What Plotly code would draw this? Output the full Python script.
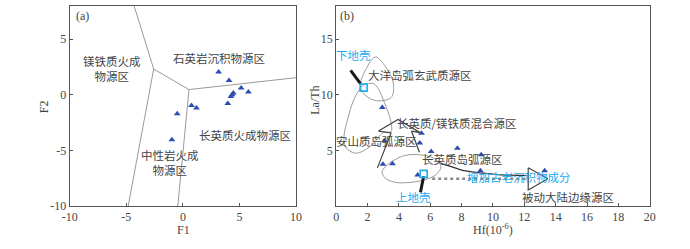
import plotly.graph_objects as go

# ---------------- Panel (a) data ----------------
a_f1 = [3.16, 4.08, 5.15, 5.79, 4.46, 4.35, 4.25, 3.97, 0.76, 1.20, -0.50, -0.97]
a_f2 = [2.06, 1.28, 0.61, 0.26, 0.17, 0.00, -0.15, -0.78, -0.96, -1.19, -1.71, -4.05]

# field boundaries (F1, F2)
a_bound_x = [-4.31, -2.58, 0.54, 10.0, None, -2.58, -4.83, None, 0.54, -0.45]
a_bound_y = [8.0, 2.32, 0.47, 1.54, None, 2.32, -10.0, None, 0.47, -10.0]

a_labels = ["镁铁质火成<br>物源区", "石英岩沉积物源区", "长英质火成物源区", "中性岩火成<br>物源区"]
a_label_x = [-6.25, 3.16, 5.47, -1.1]
a_label_y = [2.35, 3.28, -3.62, -6.05]

a_xticks = [-10, -5, 0, 5, 10]
a_xtick_text = ["-10", "-5", "0", "5", "10"]
a_yticks = [-10, -5, 0, 5]
a_ytick_text = ["-10", "-5", "0", "5"]

# ---------------- Panel (b) data ----------------
b_hf = [2.94, 5.44, 5.33, 3.08, 6.06, 7.73, 9.25, 2.98, 3.59, 9.20, 5.20, 13.3]
b_lath = [8.85, 6.55, 5.67, 5.87, 4.91, 5.20, 4.62, 3.76, 3.81, 3.17, 2.80, 3.17]

crust_hf = [1.75, 5.58]      # lower crust, upper crust
crust_lath = [10.65, 2.89]

# field outlines (Hf, La/Th)
ocean_hf = [2.5, 3.25, 3.65, 3.5, 2.45, 1.7, 1.55, 1.9, 2.5]
ocean_lath = [13.4, 12.3, 11.0, 9.75, 9.5, 10.2, 11.0, 12.3, 13.4]

andes_hf = [1.75, 2.375, 2.7, 3.1, 3.45, 3.5, 3.0, 2.2, 1.25, 0.6, 0.5, 0.75, 1.06, 1.45, 1.75]
andes_lath = [10.9, 11.0, 10.5, 9.2, 7.8, 6.7, 6.6, 5.4, 4.75, 5.3, 6.3, 7.9, 9.35, 10.4, 10.9]

felsic_hf = [2.93, 3.5, 4.4, 5.4, 6.3, 6.68, 6.4, 5.6, 4.5, 3.7, 3.1, 2.93]
felsic_lath = [3.1, 3.95, 4.55, 4.6, 4.25, 3.55, 2.85, 2.35, 2.1, 2.15, 2.55, 3.1]

# hollow up arrow (mixed source)
mix_hf = [2.63, 3.5, 2.7, 3.94, 5.35, 4.8, 5.31]
mix_lath = [3.43, 6.57, 6.74, 7.78, 6.6, 6.74, 4.83]

# curved arrow to passive margin
curve_hf = [6.67, 7.19, 7.94, 9.06, 10.3, 12.25]
curve_lath = [3.84, 3.61, 3.26, 3.0, 2.83, 2.74]
tri_hf = [12.25, 12.25, 13.5, 12.25]
tri_lath = [3.45, 1.45, 2.45, 3.45]
old_hf = [6.125, 12.25]
old_lath = [2.45, 2.45]

# crust tick marks
lc_hf = [0.92, 1.56]
lc_lath = [12.2, 10.98]
uc_hf = [5.58, 5.375]
uc_lath = [2.68, 1.23]

b_labels = ["大洋岛弧玄武质源区", "长英质/镁铁质混合源区", "安山质岛弧源区", "长英质岛弧源区", "被动大陆边缘源区"]
b_label_x = [5.35, 7.7, 2.6, 8.06, 14.76]
b_label_y = [11.75, 7.46, 5.87, 4.19, 0.8]

b_cyan_labels = ["下地壳", "上地壳", "增加古老沉积物成分"]
b_cyan_x = [1.13, 4.96, 11.67]
b_cyan_y = [13.6, 0.8, 2.59]

b_xticks = list(range(0, 21, 2))
b_yticks = [5, 10, 15]

# ---------------- styles ----------------
CJK = "Noto Sans CJK SC"
SERIF = "Liberation Serif"
TXT = "#444444"
CYAN = "#22aaee"
BLUE = "#2c4cb0"
GRAY = "#9a9a9a"

fig = go.Figure()

# panel a
fig.add_trace(go.Scatter(x=a_bound_x, y=a_bound_y, mode="lines",
                         line=dict(color=GRAY, width=1), xaxis="x", yaxis="y",
                         hoverinfo="skip", showlegend=False))
fig.add_trace(go.Scatter(x=a_f1, y=a_f2, mode="markers",
                         marker=dict(symbol="triangle-up", size=6, color=BLUE),
                         xaxis="x", yaxis="y", showlegend=False))

# panel b fields
for hx, hy in [(ocean_hf, ocean_lath), (andes_hf, andes_lath), (felsic_hf, felsic_lath)]:
    fig.add_trace(go.Scatter(x=hx, y=hy, mode="lines",
                             line=dict(color=GRAY, width=1, shape="spline", smoothing=1.0),
                             xaxis="x2", yaxis="y2", hoverinfo="skip", showlegend=False))
fig.add_trace(go.Scatter(x=mix_hf, y=mix_lath, mode="lines",
                         line=dict(color="#444444", width=1.2),
                         xaxis="x2", yaxis="y2", hoverinfo="skip", showlegend=False))
fig.add_trace(go.Scatter(x=old_hf, y=old_lath, mode="lines",
                         line=dict(color="#8a8a8a", width=2.5, dash="dot"),
                         xaxis="x2", yaxis="y2", hoverinfo="skip", showlegend=False))
fig.add_trace(go.Scatter(x=curve_hf, y=curve_lath, mode="lines",
                         line=dict(color="#333333", width=1.3, shape="spline"),
                         xaxis="x2", yaxis="y2", hoverinfo="skip", showlegend=False))
fig.add_trace(go.Scatter(x=tri_hf, y=tri_lath, mode="lines",
                         line=dict(color="#444444", width=1.2),
                         xaxis="x2", yaxis="y2", hoverinfo="skip", showlegend=False))
for hx, hy in [(lc_hf, lc_lath), (uc_hf, uc_lath)]:
    fig.add_trace(go.Scatter(x=hx, y=hy, mode="lines",
                             line=dict(color="#1a1a1a", width=3),
                             xaxis="x2", yaxis="y2", hoverinfo="skip", showlegend=False))
fig.add_trace(go.Scatter(x=b_hf, y=b_lath, mode="markers",
                         marker=dict(symbol="triangle-up", size=6, color=BLUE),
                         xaxis="x2", yaxis="y2", showlegend=False))
fig.add_trace(go.Scatter(x=crust_hf, y=crust_lath, mode="markers",
                         marker=dict(symbol="square-open", size=7, color=CYAN,
                                     line=dict(width=1.6, color=CYAN)),
                         xaxis="x2", yaxis="y2", showlegend=False))

ann = []
for t, x, y in zip(a_labels, a_label_x, a_label_y):
    ann.append(dict(text=t, x=x, y=y, xref="x", yref="y", showarrow=False,
                    font=dict(family=CJK, size=11.5, color=TXT)))
for t, x, y in zip(b_labels, b_label_x, b_label_y):
    ann.append(dict(text=t, x=x, y=y, xref="x2", yref="y2", showarrow=False,
                    font=dict(family=CJK, size=11.5, color=TXT)))
for t, x, y in zip(b_cyan_labels, b_cyan_x, b_cyan_y):
    ann.append(dict(text=t, x=x, y=y, xref="x2", yref="y2", showarrow=False,
                    font=dict(family=CJK, size=11.5, color=CYAN)))
ann.append(dict(text="(a)", x=-8.9, y=7.1, xref="x", yref="y", showarrow=False,
                font=dict(family=SERIF, size=12, color=TXT)))
ann.append(dict(text="(b)", x=0.66, y=17.1, xref="x2", yref="y2", showarrow=False,
                font=dict(family=SERIF, size=12, color=TXT)))
# axis titles
title_font = dict(family=SERIF, size=12, color=TXT)
ann.append(dict(text="F1", x=179 / 690, y=1 - 237 / 249, xref="paper", yref="paper",
                xanchor="center", yanchor="middle", showarrow=False, font=title_font))
ann.append(dict(text="F2", x=37 / 690, y=1 - 110 / 249, xref="paper", yref="paper",
                xanchor="center", yanchor="middle", showarrow=False, textangle=-90, font=title_font))
ann.append(dict(text="Hf(10<sup>-6</sup>)", x=495 / 690, y=1 - 236 / 249, xref="paper", yref="paper",
                xanchor="center", yanchor="middle", showarrow=False, font=title_font))
ann.append(dict(text="La/Th", x=313 / 690, y=1 - 103 / 249, xref="paper", yref="paper",
                xanchor="center", yanchor="middle", showarrow=False, textangle=-90, font=title_font))

axis_common = dict(showgrid=False, zeroline=False, showline=True, mirror=True,
                   linecolor="#555555", linewidth=1, ticks="inside", ticklen=3,
                   tickcolor="#555555", tickfont=dict(family=SERIF, size=12, color=TXT))

fig.update_layout(
    width=690, height=249, autosize=False,
    margin=dict(l=0, r=0, t=0, b=0),
    paper_bgcolor="white", plot_bgcolor="white",
    showlegend=False,
    annotations=ann,
    xaxis=dict(domain=[63 / 690, 294 / 690], range=[-10, 10], anchor="y",
               tickvals=a_xticks, ticktext=a_xtick_text, **axis_common),
    yaxis=dict(domain=[1 - 212 / 249, 1 - 6 / 249], range=[-10, 8], anchor="x",
               tickvals=a_yticks, ticktext=a_ytick_text, **axis_common),
    xaxis2=dict(domain=[335 / 690, 655 / 690], range=[0, 20], anchor="y2",
                tickvals=b_xticks, **axis_common),
    yaxis2=dict(domain=[1 - 212 / 249, 1 - 6 / 249], range=[0, 18], anchor="x2",
                tickvals=b_yticks, **axis_common),
)

fig.write_html("out.html", config={"displayModeBar": False},
               post_script="document.body.style.margin='0';")
